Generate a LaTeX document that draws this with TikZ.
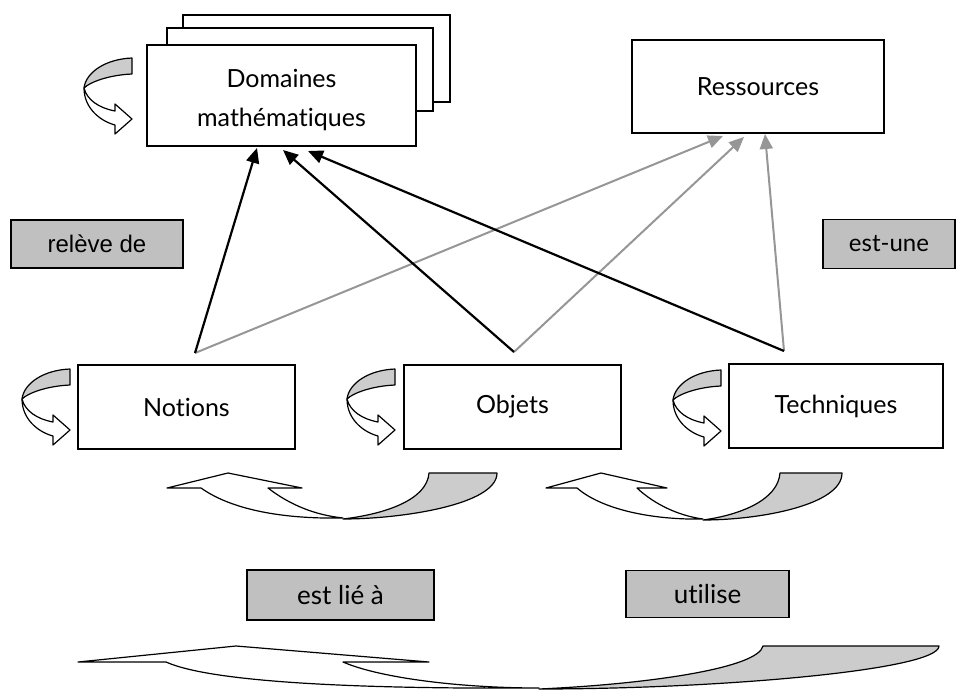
\documentclass[tikz,border=0pt]{standalone}
\usepackage{fontspec}
\setmainfont{Lato}[Ligatures={NoCommon}]
\newfontfamily\arialfont{Liberation Sans}
\usetikzlibrary{arrows.meta}
\definecolor{lblgray}{RGB}{192,192,192}
\definecolor{argray}{RGB}{204,204,204}
\definecolor{lngray}{RGB}{150,150,150}
\begin{document}
\begin{tikzpicture}[x=1pt,y=-1pt,
  box/.style={draw=black, line width=1.4pt, fill=white, inner sep=0pt, font=\fontsize{25}{30}\selectfont},
  lbl/.style={draw=black, line width=1.4pt, fill=lblgray, inner sep=0pt, font=\fontsize{24}{28}\selectfont},
  blk/.style={draw=black, line width=2.2pt, -{Triangle[length=15pt,width=13pt]}},
  gry/.style={draw=lngray, line width=2pt, -{Triangle[length=15pt,width=13pt]}},
  band/.style={draw=black, line width=1.2pt, line join=round},
  loopar/.pic={
    \path[band, fill=argray] (48,0) .. controls (22,1) and (2,14) .. (0,30)
       .. controls (6,24) and (25,17) .. (48,16) -- cycle;
    \path[band, fill=white] (0,30) .. controls (0,50) and (16,63) .. (31,67)
       -- (31,76) -- (48,61) -- (31,46) -- (31,53)
       .. controls (15,50) and (3,42) .. (0,30) -- cycle;
  }]
\useasboundingbox (0,0) rectangle (962,691);

% Domaines stack
\node[box, minimum width=267pt, minimum height=87pt] (dback) at (316.5,58.5) {};
\node[box, minimum width=266pt, minimum height=83pt] (dmid) at (300,69.5) {};
\node[box, minimum width=269pt, minimum height=101pt] (dom) at (281.5,95.5) {};
\node[align=center, inner sep=0pt, font=\fontsize{25}{39}\selectfont] (domtxt) at (281.5,100) {Domaines\\mathématiques};

\node[box, minimum width=252pt, minimum height=93pt] (res) at (758,86.5) {Ressources};

\node[box, minimum width=217pt, minimum height=84pt] (notions) at (186.5,407) {Notions};
\node[box, minimum width=217pt, minimum height=84pt] (objets) at (512.5,407) {Objets};
\node[box, minimum width=214pt, minimum height=84pt] (tech) at (836,406) {Techniques};

\node[lbl, minimum width=172pt, minimum height=48pt, font=\arialfont\fontsize{24}{28}\selectfont] (releve) at (97,244) {relève de};
\node[lbl, minimum width=132pt, minimum height=49pt] (estune) at (889,244) {est-une};
\node[lbl, minimum width=187pt, minimum height=50pt, font=\fontsize{26}{30}\selectfont] (estlie) at (340.5,595) {est lié à};
\node[lbl, minimum width=163pt, minimum height=47pt, font=\fontsize{26}{30}\selectfont] (utilise) at (707.5,594) {utilise};

% loop arrows
\pic at (84,58) {loopar};
\pic at (22,369) {loopar};
\pic at (347,369) {loopar};
\pic at (673,370) {loopar};

% connector endpoints
\coordinate (sN) at (195,353);
\coordinate (sO) at (514,352);
\coordinate (sT) at (784,351);
\coordinate (eD1) at (257,148);
\coordinate (eD2) at (283,150);
\coordinate (eD3) at (308,151);
\coordinate (eR1) at (723,136);
\coordinate (eR2) at (744,137);
\coordinate (eR3) at (765,134);

\draw[gry] (sN) -- (eR1);
\draw[gry] (sO) -- (eR2);
\draw[gry] (sT) -- (eR3);
\draw[blk] (sN) -- (eD1);
\draw[blk] (sO) -- (eD2);
\draw[blk] (sT) -- (eD3);

% curved arrow 1
\path[band, fill=argray] (429,473) -- (497,473) .. controls (497,505) and (400,519) .. (343,519)
   .. controls (385,514) and (427,500) .. (429,473) -- cycle;
\path[band, fill=white] (201,488) -- (167,488) -- (228,473) -- (302,488) -- (268,488)
   .. controls (290,505) and (315,515) .. (343,518)
   .. controls (290,519) and (235,512) .. (201,488) -- cycle;

% curved arrow 2
\path[band, fill=argray] (780,473) -- (842,473) .. controls (842,505) and (760,520) .. (703,520)
   .. controls (740,515) and (778,500) .. (780,473) -- cycle;
\path[band, fill=white] (577,488) -- (546,488) -- (601,473) -- (667,488) -- (637,488)
   .. controls (655,505) and (680,516) .. (703,519)
   .. controls (660,520) and (605,512) .. (577,488) -- cycle;

% curved arrow 3
\path[band, fill=argray] (763,646) -- (939,646) .. controls (939,670) and (720,689) .. (539,689)
   .. controls (650,684) and (758,668) .. (763,646) -- cycle;
\path[band, fill=white] (166,662) -- (78,662) -- (236,646) -- (429,662) -- (343,662)
   .. controls (380,678) and (460,688) .. (539,688)
   .. controls (380,689) and (215,684) .. (166,662) -- cycle;
\end{tikzpicture}
\end{document}
